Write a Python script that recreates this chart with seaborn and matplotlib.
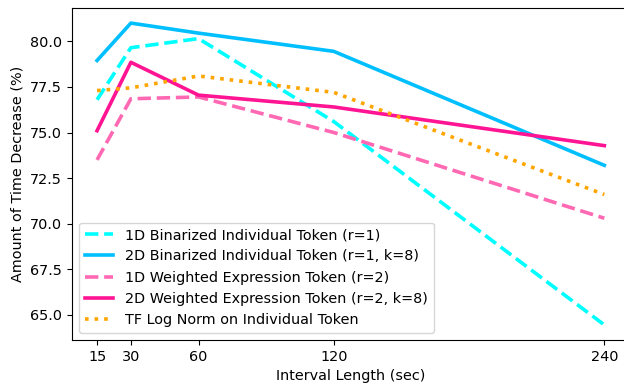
import pandas as pd
import matplotlib.pyplot as plt
import seaborn as sns

# Interval lengths (sec)
intervals = [15, 30, 60, 120, 240]

# Amount of time decrease (%) per method
bin_1d = [76.8, 79.65, 80.15, 75.6, 64.45]
bin_2d = [78.95, 81.0, 80.45, 79.45, 73.2]
wexp_1d = [73.5, 76.85, 76.95, 75.0, 70.3]
wexp_2d = [75.1, 78.85, 77.05, 76.4, 74.28]
tf_log = [77.3, 77.45, 78.1, 77.2, 71.6]

series = [
    ('1D Binarized Individual Token (r=1)', bin_1d, 'cyan', (0, (3.7, 1.6))),
    ('2D Binarized Individual Token (r=1, k=8)', bin_2d, 'deepskyblue', '-'),
    ('1D Weighted Expression Token (r=2)', wexp_1d, 'hotpink', (0, (3.7, 1.6))),
    ('2D Weighted Expression Token (r=2, k=8)', wexp_2d, 'deeppink', '-'),
    ('TF Log Norm on Individual Token', tf_log, 'orange', (0, (1, 1.65))),
]

plt.rcParams['font.size'] = 10.35

fig = plt.figure(figsize=(6.24, 3.86), dpi=100)
# original image is cropped on the right, so the axes run past the edge
ax = fig.add_axes([71.7 / 624, 46 / 386, 558 / 624, 332 / 386])
for label, vals, color, ls in series:
    df = pd.DataFrame({'x': intervals, 'y': vals})
    sns.lineplot(data=df, x='x', y='y', ax=ax, color=color, linestyle=ls,
                 linewidth=2.6, label=label)

ax.spines['right'].set_visible(False)
ax.set_xticks(intervals)
ax.set_xlabel('Interval Length (sec)')
ax.set_ylabel('Amount of Time Decrease (%)')
ax.legend(loc='lower left')
plt.savefig('out.png', dpi=100)
